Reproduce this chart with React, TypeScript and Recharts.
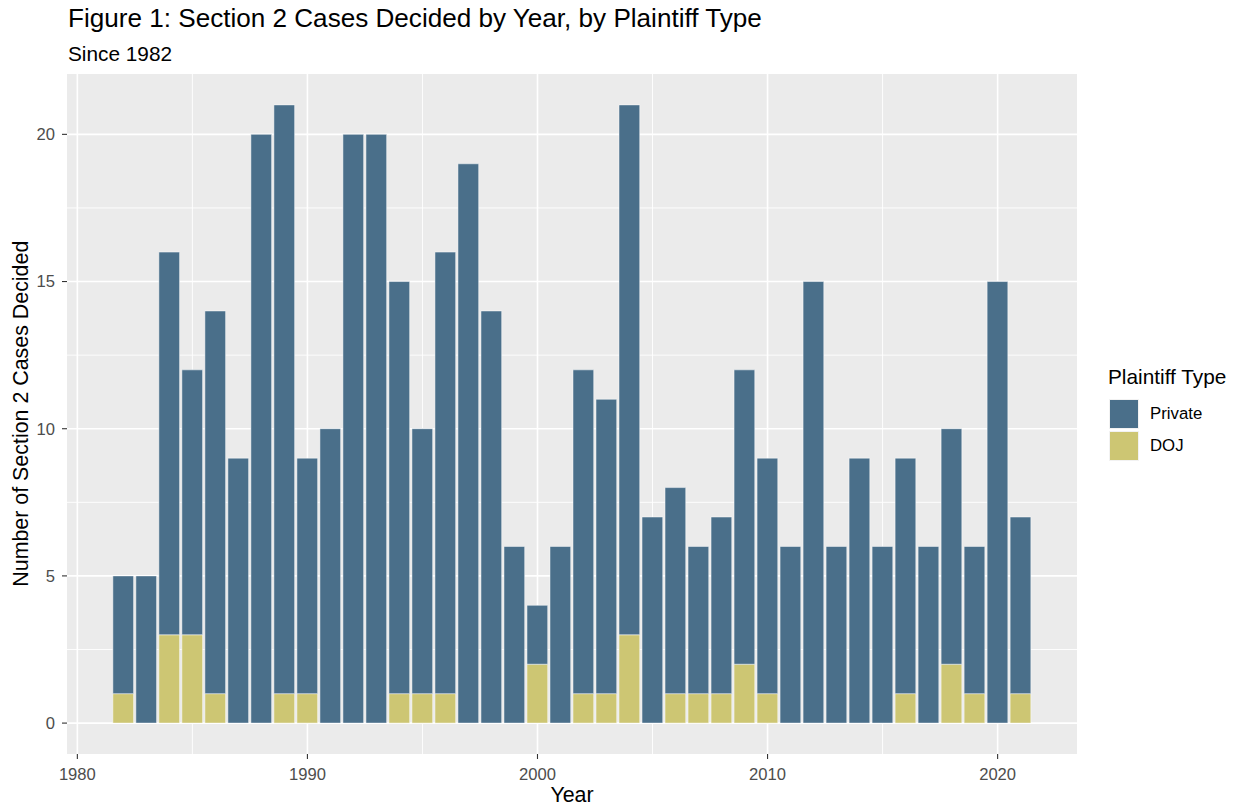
import React from 'react'
import { BarChart, Bar, XAxis, YAxis, CartesianGrid } from 'recharts'

// cases decided per year, split by who brought them
const years = [
   1982, 1983, 1984, 1985, 1986, 1987, 1988, 1989, 1990, 1991, 1992, 1993, 1994, 1995, 1996, 1997, 1998, 1999, 2000,
   2001, 2002, 2003, 2004, 2005, 2006, 2007, 2008, 2009, 2010, 2011, 2012, 2013, 2014, 2015, 2016, 2017, 2018, 2019,
   2020, 2021,
]
const privateCases = [
   4, 5, 13, 9, 13, 9, 20, 20, 8, 10, 20, 20, 14, 9, 15, 19, 14, 6, 2, 6, 11, 10, 18, 7, 7, 5, 6, 10, 8, 6, 15, 6, 9, 6,
   8, 6, 8, 5, 15, 6,
]
const dojCases = [
   1, 0, 3, 3, 1, 0, 0, 1, 1, 0, 0, 0, 1, 1, 1, 0, 0, 0, 2, 0, 1, 1, 3, 0, 1, 1, 1, 2, 1, 0, 0, 0, 0, 0, 1, 0, 2, 1, 0,
   1,
]

const xTicks = [1980, 1990, 2000, 2010, 2020]
const xMinor = [1985, 1995, 2005, 2015]
const yTicks = [0, 5, 10, 15, 20]
const yMinor = [2.5, 7.5, 12.5, 17.5]

const series = [
   { key: 'Private', color: '#4A6F8A' },
   { key: 'DOJ', color: '#CDC673' },
]

const data = years.map((year, i) => ({ year, Private: privateCases[i], DOJ: dojCases[i] }))

const FONT = '"Liberation Sans", Arial, sans-serif'
const W = 1238
const H = 808
const PLOT = { left: 67, right: 1077, top: 74, bottom: 754 }
const X_DOMAIN: [number, number] = [1979.55, 2023.45]
const barWidth = ((PLOT.right - PLOT.left) / (X_DOMAIN[1] - X_DOMAIN[0])) * 0.9

const tickStyle = { fill: '#4D4D4D', fontSize: 16.6, fontFamily: FONT }

const App: React.FC = () => (
   <div style={{ position: 'absolute', left: 0, top: 0, width: W, height: H, background: '#fff', fontFamily: FONT }}>
      <div style={{ position: 'absolute', left: 68, top: 5.2, fontSize: 26.1, lineHeight: 1, color: '#000', whiteSpace: 'nowrap' }}>
         Figure 1: Section 2 Cases Decided by Year, by Plaintiff Type
      </div>
      <div style={{ position: 'absolute', left: 68, top: 44.2, fontSize: 20.8, lineHeight: 1, color: '#000', whiteSpace: 'nowrap' }}>
         Since 1982
      </div>

      <BarChart
         width={W}
         height={H}
         data={data}
         margin={{ top: PLOT.top, right: W - PLOT.right, left: PLOT.left - 40, bottom: H - PLOT.bottom - 30 }}
         barSize={barWidth}
      >
         <CartesianGrid fill='#EBEBEB' stroke='#FFFFFF' strokeWidth={0.9} horizontalValues={yMinor} verticalValues={xMinor} />
         <CartesianGrid stroke='#FFFFFF' strokeWidth={1.6} horizontalValues={yTicks} verticalValues={xTicks} />
         <XAxis
            type='number'
            dataKey='year'
            domain={X_DOMAIN}
            ticks={xTicks}
            allowDataOverflow
            height={30}
            axisLine={false}
            tickLine={{ stroke: '#333333', strokeWidth: 1.1 }}
            tickSize={5}
            tickMargin={9}
            tick={tickStyle}
         />
         <YAxis
            type='number'
            domain={[-1.05, 22.05]}
            ticks={yTicks}
            allowDataOverflow
            width={40}
            axisLine={false}
            tickLine={{ stroke: '#333333', strokeWidth: 1.1 }}
            tickSize={5}
            tickMargin={7}
            tick={tickStyle}
         />
         {/* first bar sits at the bottom of the stack */}
         <Bar dataKey='DOJ' stackId='cases' fill={series[1].color} stroke='#FFFFFF' strokeOpacity={0.6} strokeWidth={0.8} isAnimationActive={false} />
         <Bar dataKey='Private' stackId='cases' fill={series[0].color} stroke='#FFFFFF' strokeOpacity={0.6} strokeWidth={0.8} isAnimationActive={false} />
      </BarChart>

      <div
         style={{
            position: 'absolute',
            left: (PLOT.left + PLOT.right) / 2 - 100,
            width: 200,
            top: 785,
            fontSize: 21.4,
            lineHeight: 1,
            textAlign: 'center',
            color: '#000',
         }}
      >
         Year
      </div>
      <div
         style={{
            position: 'absolute',
            left: 22 - 250,
            top: (PLOT.top + PLOT.bottom) / 2 - 10.7,
            width: 500,
            fontSize: 21.4,
            lineHeight: 1,
            textAlign: 'center',
            color: '#000',
            transform: 'rotate(-90deg)',
            whiteSpace: 'nowrap',
         }}
      >
         Number of Section 2 Cases Decided
      </div>

      {/* legend */}
      <div style={{ position: 'absolute', left: 1108, top: 367.4, fontSize: 20.8, lineHeight: 1, color: '#000', whiteSpace: 'nowrap' }}>
         Plaintiff Type
      </div>
      {series.map((s, i) => (
         <div key={s.key} style={{ position: 'absolute', left: 1109, top: 398 + i * 32, height: 32, display: 'flex', alignItems: 'center' }}>
            <div style={{ width: 30, height: 30, background: s.color, border: '1px solid #F2F2F2', boxSizing: 'border-box' }} />
            <div style={{ marginLeft: 11, fontSize: 16.8, color: '#000' }}>{s.key}</div>
         </div>
      ))}
   </div>
)

export default App
